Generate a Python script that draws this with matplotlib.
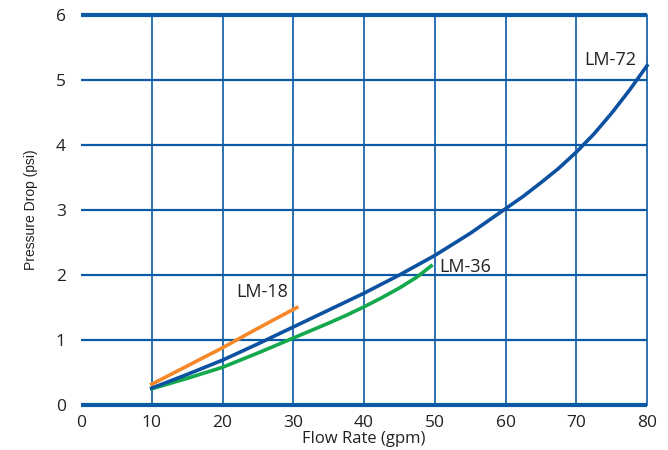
import matplotlib
matplotlib.use("Agg")
import matplotlib.pyplot as plt

# values
flow_72 = [10, 15, 20, 25, 30, 35, 40, 45, 50, 55, 60, 62.5, 65, 67.5, 70, 72.5, 75, 77.5, 80]
drop_72 = [0.26, 0.47, 0.69, 0.94, 1.2, 1.46, 1.72, 2.0, 2.3, 2.64, 3.02, 3.21, 3.42, 3.64, 3.89, 4.17, 4.49, 4.84, 5.22]
flow_36 = [10, 15, 20, 25, 30, 35, 37.5, 40, 42.5, 45, 47.5, 49.5]
drop_36 = [0.25, 0.41, 0.58, 0.8, 1.03, 1.26, 1.38, 1.51, 1.65, 1.8, 1.97, 2.14]
flow_18 = [10, 15, 20, 25, 30.5]
drop_18 = [0.32, 0.6, 0.88, 1.18, 1.5]

x_ticks = [0, 10, 20, 30, 40, 50, 60, 70, 80]
y_ticks = [0, 1, 2, 3, 4, 5, 6]

grid_col = "#0b5aa5"
txt_col = "#222222"
plt.rcParams["font.family"] = ["Open Sans", "DejaVu Sans"]

fig = plt.figure(figsize=(6.68, 4.5), dpi=100)
ax = fig.add_axes([0.1213, 0.1, 0.8473, 0.8667])
ax.set_xlim(0, 80)
ax.set_ylim(0, 6)

for s in ax.spines.values():
    s.set_visible(False)

for y in y_ticks:
    lw = 3.0 if y in (0, 6) else 1.6
    ax.plot([0, 80], [y, y], color=grid_col, lw=lw, clip_on=False, zorder=1,
            solid_capstyle="butt")
for x in x_ticks[1:]:
    ax.plot([x, x], [0, 6], color=grid_col, lw=1.2, clip_on=False, zorder=1)

ax.plot(flow_18, drop_18, color="#f5892a", lw=2.6, zorder=3, clip_on=False)
ax.plot(flow_36, drop_36, color="#13a84b", lw=2.6, zorder=3, clip_on=False)
ax.plot(flow_72, drop_72, color="#0d52a0", lw=2.6, zorder=4, clip_on=False)

ax.text(25.6, 1.6, "LM-18", fontsize=13, ha="center", va="bottom", color=txt_col)
ax.text(50.6, 2.12, "LM-36", fontsize=13, ha="left", va="center", color=txt_col)
ax.text(74.8, 5.3, "LM-72", fontsize=13, ha="center", va="center", color=txt_col)

ax.set_xticks(x_ticks)
ax.set_yticks(y_ticks)
ax.tick_params(length=0, labelsize=12.5, labelcolor=txt_col)
ax.tick_params(axis="y", pad=11)
ax.tick_params(axis="x", pad=7)
ax.set_xlabel("Flow Rate (gpm)", fontsize=12, color=txt_col, va="center")
ax.xaxis.set_label_coords(0.5, -0.088)
ax.set_ylabel("Pressure Drop (psi)", fontsize=10, color=txt_col, labelpad=13,
              family="Liberation Sans")

fig.savefig("out.png", dpi=100)
